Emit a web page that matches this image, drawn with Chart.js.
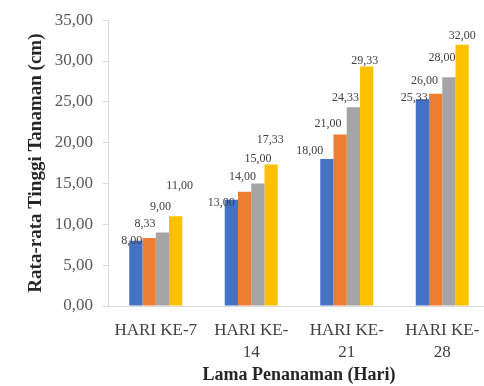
<!DOCTYPE html>
<html>
<head>
<meta charset="utf-8">
<script src="https://cdn.jsdelivr.net/npm/chart.js@4/dist/chart.umd.min.js"></script>
<style>
  html, body { margin: 0; padding: 0; background: #ffffff; overflow: hidden; }
  #wrap { width: 492px; height: 386px; }
</style>
</head>
<body>
<div id="wrap"><canvas id="chart" width="492" height="386"></canvas></div>
<script>
// Plant height by observation day (cm)
const categories = [["HARI KE-7"], ["HARI KE-", "14"], ["HARI KE-", "21"], ["HARI KE-", "28"]];
const seriesA = [8.00, 13.00, 18.00, 25.33];
const seriesB = [8.33, 14.00, 21.00, 26.00];
const seriesC = [9.00, 15.00, 24.33, 28.00];
const seriesD = [11.00, 17.33, 29.33, 32.00];
const yTicks = [0, 5, 10, 15, 20, 25, 30, 35];

const SERIF = '"Liberation Serif", "Times New Roman", serif';
const fmt = v => Number(v).toFixed(2).replace('.', ',');

// Hand-placed value label nudges [dx, lift] in px, per series and category
const labelNudge = [
  [[-4, 0], [-10, -3], [-17, 8], [-8, 1]],
  [[-4, 14], [-2, 15], [-12, 11], [-11, 13]],
  [[-2, 26], [0, 25], [-8, 9], [-7, 20]],
  [[4, 30], [-1, 25], [-2, 6], [0, 9]]
];

const valueLabels = {
  id: 'valueLabels',
  afterDatasetsDraw(chart) {
    const ctx = chart.ctx;
    ctx.save();
    ctx.font = '12px ' + SERIF;
    ctx.fillStyle = '#404040';
    ctx.textAlign = 'center';
    ctx.textBaseline = 'middle';
    chart.data.datasets.forEach((ds, di) => {
      const meta = chart.getDatasetMeta(di);
      meta.data.forEach((bar, i) => {
        const [dx, lift] = labelNudge[di][i];
        ctx.fillText(fmt(ds.data[i]), bar.x + dx, bar.y - lift);
      });
    });
    ctx.restore();
  }
};

new Chart(document.getElementById('chart'), {
  type: 'bar',
  data: {
    labels: categories,
    datasets: [
      { label: 'P1', data: seriesA, backgroundColor: '#4472C4' },
      { label: 'P2', data: seriesB, backgroundColor: '#ED7D31' },
      { label: 'P3', data: seriesC, backgroundColor: '#A5A5A5' },
      { label: 'P4', data: seriesD, backgroundColor: '#FFC000' }
    ]
  },
  options: {
    responsive: false,
    animation: false,
    devicePixelRatio: 1,
    layout: { padding: { top: 18, right: 2, bottom: 0, left: 0 } },
    datasets: { bar: { barPercentage: 1.0, categoryPercentage: 0.555 } },
    plugins: {
      legend: { display: false },
      tooltip: { enabled: false }
    },
    scales: {
      x: {
        grid: { display: false },
        border: { display: true, color: '#d9d9d9', width: 1 },
        ticks: {
          color: '#404040',
          font: { family: SERIF, size: 17, lineHeight: 1.3 },
          padding: 5,
          maxRotation: 0,
          autoSkip: false
        },
        title: {
          display: true,
          text: 'Lama Penanaman (Hari)',
          color: '#262626',
          font: { family: SERIF, size: 18, weight: 'bold' },
          padding: { top: 0, bottom: 0 }
        },
        afterFit(scale) { scale.height = 80; }
      },
      y: {
        min: 0,
        max: 35,
        afterBuildTicks(scale) { scale.ticks = yTicks.map(v => ({ value: v })); },
        grid: { display: true, drawOnChartArea: false, drawTicks: true, tickLength: 5, color: '#d9d9d9' },
        border: { display: true, color: '#d9d9d9', width: 1 },
        ticks: {
          color: '#595959',
          font: { family: SERIF, size: 17 },
          padding: 10,
          callback: v => fmt(v)
        },
        title: {
          display: true,
          text: 'Rata-rata Tinggi Tanaman (cm)',
          color: '#262626',
          font: { family: SERIF, size: 19, weight: 'bold' },
          padding: { top: 25, bottom: 0 }
        },
        afterFit(scale) { scale.width = 108; }
      }
    }
  },
  plugins: [valueLabels]
});
</script>
</body>
</html>
